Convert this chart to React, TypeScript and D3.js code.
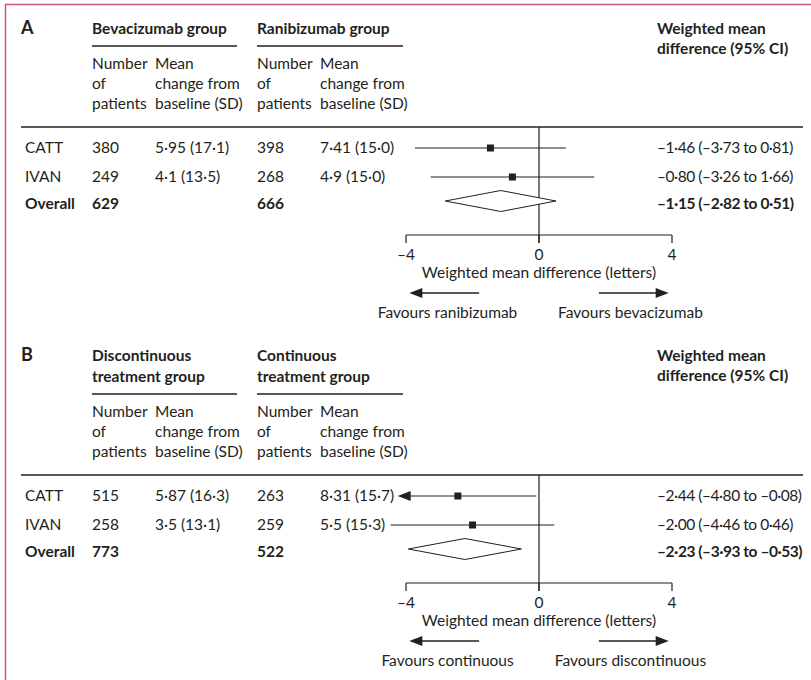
import React from "react";
import * as d3 from "d3";

// ---------- data ----------
const studies = ["CATT", "IVAN"];
const tickValues = [-4, 0, 4];
const axisTitle = "Weighted mean difference (letters)";

// Panel A
const aLetter = "A";
const aGroup1 = ["Bevacizumab group"];
const aGroup2 = ["Ranibizumab group"];
const aN1 = [380, 249];
const aMean1 = [5.95, 4.1];
const aSd1 = [17.1, 13.5];
const aN2 = [398, 268];
const aMean2 = [7.41, 4.9];
const aSd2 = [15.0, 15.0];
const aWmd = [-1.46, -0.8];
const aLo = [-3.73, -3.26];
const aHi = [0.81, 1.66];
const aTotals = [629, 666];
const aOverall = [-1.15, -2.82, 0.51];
const aFavours = ["Favours ranibizumab", "Favours bevacizumab"];

// Panel B
const bLetter = "B";
const bGroup1 = ["Discontinuous", "treatment group"];
const bGroup2 = ["Continuous", "treatment group"];
const bN1 = [515, 258];
const bMean1 = [5.87, 3.5];
const bSd1 = [16.3, 13.1];
const bN2 = [263, 259];
const bMean2 = [8.31, 5.5];
const bSd2 = [15.7, 15.3];
const bWmd = [-2.44, -2.0];
const bLo = [-4.8, -4.46];
const bHi = [-0.08, 0.46];
const bTotals = [773, 522];
const bOverall = [-2.23, -3.93, -0.53];
const bFavours = ["Favours continuous", "Favours discontinuous"];

// ---------- helpers ----------
const INK = "#231f20";
const FONT = "Lato, 'Open Sans', sans-serif";
const FS = 15.5;
const clean = (s: string) => s.replace(/\./g, "·").replace(/[-\u2212]/g, "–");
const f2 = (v: number) => clean(d3.format(".2f")(v));
const f1 = (v: number) => clean(d3.format(".1f")(v));
const meanSd = (m: number, sd: number) => `${clean(String(m))} (${f1(sd)})`;
const wmdLabel = (w: number, lo: number, hi: number) => `${f2(w)} (${f2(lo)} to ${f2(hi)})`;

const x = d3.scaleLinear().domain([-4, 4]).range([406, 672]);
const CLIP_AT = 4.5; // CIs beyond this are truncated with an arrow
const ARROW_TIP = 4.25;

type PanelProps = {
  off: number;
  letter: string;
  g1: string[];
  g2: string[];
  n1: number[];
  m1: number[];
  s1: number[];
  n2: number[];
  m2: number[];
  s2: number[];
  wmd: number[];
  lo: number[];
  hi: number[];
  totals: number[];
  overall: number[];
  favours: string[];
};

function Panel(p: PanelProps) {
  const o = p.off;
  const hdrLast = o + 34;
  const hdrFirst = hdrLast - (p.g1.length - 1) * 21;
  const rowY = [o + 148, o + 177];
  const ovY = o + 201;
  const axisY = o + 235;
  const ruleY = o + 127;
  const subY = [o + 69, o + 89, o + 109];
  const cols = { lab: 25, n1: 92, m1: 155, n2: 257, m2: 320, wmd: 657 };
  const [ow, olo, ohi] = p.overall;
  const arrY = o + 293;
  const leftArrow = [x(-1.8), x(-3.9)];
  const rightArrow = [x(1.8), x(3.9)];
  const head = (tip: number, dir: number, y: number, len = 12, hw = 5) =>
    `${tip},${y} ${tip - dir * len},${y - hw} ${tip - dir * len},${y + hw}`;

  return (
    <g fill={INK} fontFamily={FONT} fontSize={FS}>
      {/* letter + group headers */}
      <text x={21} y={hdrFirst} fontWeight="bold" fontSize={18}>{p.letter}</text>
      {p.g1.map((t, i) => (
        <text key={"g1" + i} x={cols.n1} y={hdrFirst + i * 21} fontWeight="bold">{t}</text>
      ))}
      {p.g2.map((t, i) => (
        <text key={"g2" + i} x={cols.n2} y={hdrFirst + i * 21} fontWeight="bold">{t}</text>
      ))}
      <text x={cols.wmd} y={hdrFirst} fontWeight="bold">Weighted mean</text>
      <text x={cols.wmd} y={hdrFirst + 20} fontWeight="bold">difference (95% CI)</text>
      <line x1={92} x2={237} y1={o + 46} y2={o + 46} stroke={INK} strokeWidth={1.3} />
      <line x1={257} x2={403} y1={o + 46} y2={o + 46} stroke={INK} strokeWidth={1.3} />
      {[cols.n1, cols.n2].map((cx) =>
        ["Number", "of", "patients"].map((t, i) => (
          <text key={cx + t} x={cx} y={subY[i]}>{t}</text>
        ))
      )}
      {[cols.m1, cols.m2].map((cx) =>
        ["Mean", "change from", "baseline (SD)"].map((t, i) => (
          <text key={cx + t} x={cx} y={subY[i]}>{t}</text>
        ))
      )}
      <line x1={21} x2={803} y1={ruleY} y2={ruleY} stroke={INK} strokeWidth={1.3} />

      {/* zero line */}
      <line x1={x(0)} x2={x(0)} y1={ruleY} y2={axisY + 8} stroke={INK} strokeWidth={1.2} />

      {/* study rows */}
      {studies.map((s, i) => {
        const y = rowY[i];
        const clipped = p.lo[i] < -CLIP_AT;
        const lo = clipped ? -ARROW_TIP : p.lo[i];
        return (
          <g key={s}>
            <text x={cols.lab} y={y + 5}>{s}</text>
            <text x={cols.n1} y={y + 5}>{p.n1[i]}</text>
            <text x={cols.m1} y={y + 5}>{meanSd(p.m1[i], p.s1[i])}</text>
            <text x={cols.n2} y={y + 5}>{p.n2[i]}</text>
            <text x={cols.m2} y={y + 5}>{meanSd(p.m2[i], p.s2[i])}</text>
            <text x={cols.wmd} y={y + 5} letterSpacing={-0.45}>{wmdLabel(p.wmd[i], p.lo[i], p.hi[i])}</text>
            <line x1={x(lo) + (clipped ? 8 : 0)} x2={x(p.hi[i])} y1={y} y2={y} stroke={INK} strokeWidth={1.2} />
            {clipped && <polygon points={head(x(lo), -1, y, 13, 5)} fill={INK} />}
            <rect x={x(p.wmd[i]) - 3.5} y={y - 3.5} width={7} height={7} fill={INK} />
          </g>
        );
      })}

      {/* overall */}
      <text x={cols.lab} y={o + 209} fontWeight="bold">Overall</text>
      <text x={cols.n1} y={o + 209} fontWeight="bold">{p.totals[0]}</text>
      <text x={cols.n2} y={o + 209} fontWeight="bold">{p.totals[1]}</text>
      <text x={cols.wmd} y={o + 209} fontWeight="bold" letterSpacing={-0.45}>{wmdLabel(ow, olo, ohi)}</text>
      <polygon
        points={`${x(olo)},${ovY} ${x(ow)},${ovY - 10.5} ${x(ohi)},${ovY} ${x(ow)},${ovY + 10.5}`}
        fill="#fff"
        stroke={INK}
        strokeWidth={1}
      />

      {/* axis */}
      <line x1={x(-4)} x2={x(4)} y1={axisY} y2={axisY} stroke={INK} strokeWidth={1.2} />
      {tickValues.map((t) => (
        <g key={t}>
          <line x1={x(t)} x2={x(t)} y1={axisY} y2={axisY + 8} stroke={INK} strokeWidth={1.2} />
          <text x={x(t)} y={o + 260} textAnchor="middle">{clean(String(t))}</text>
        </g>
      ))}
      <text x={x(0)} y={o + 278} textAnchor="middle">{axisTitle}</text>

      {/* favours arrows */}
      <line x1={leftArrow[0]} x2={leftArrow[1] + 8} y1={arrY} y2={arrY} stroke={INK} strokeWidth={1.4} />
      <polygon points={head(leftArrow[1], -1, arrY, 13, 5)} fill={INK} />
      <line x1={rightArrow[0]} x2={rightArrow[1] - 8} y1={arrY} y2={arrY} stroke={INK} strokeWidth={1.4} />
      <polygon points={head(rightArrow[1], 1, arrY, 13, 5)} fill={INK} />
      <text x={x(-2.75)} y={o + 318} textAnchor="middle">{p.favours[0]}</text>
      <text x={x(2.75)} y={o + 318} textAnchor="middle">{p.favours[1]}</text>
    </g>
  );
}

export default function App() {
  return (
    <svg
      width={811}
      height={680}
      style={{ position: "absolute", left: 0, top: 0, background: "#fff" }}
    >
      <rect x={0} y={0} width={811} height={680} fill="#fff" />
      <line x1={5} x2={811} y1={4.5} y2={4.5} stroke="#c9577f" strokeWidth={1.5} />
      <line x1={5.5} x2={5.5} y1={4} y2={680} stroke="#c9577f" strokeWidth={1.5} />
      <Panel
        off={0}
        letter={aLetter}
        g1={aGroup1}
        g2={aGroup2}
        n1={aN1}
        m1={aMean1}
        s1={aSd1}
        n2={aN2}
        m2={aMean2}
        s2={aSd2}
        wmd={aWmd}
        lo={aLo}
        hi={aHi}
        totals={aTotals}
        overall={aOverall}
        favours={aFavours}
      />
      <Panel
        off={348}
        letter={bLetter}
        g1={bGroup1}
        g2={bGroup2}
        n1={bN1}
        m1={bMean1}
        s1={bSd1}
        n2={bN2}
        m2={bMean2}
        s2={bSd2}
        wmd={bWmd}
        lo={bLo}
        hi={bHi}
        totals={bTotals}
        overall={bOverall}
        favours={bFavours}
      />
    </svg>
  );
}
